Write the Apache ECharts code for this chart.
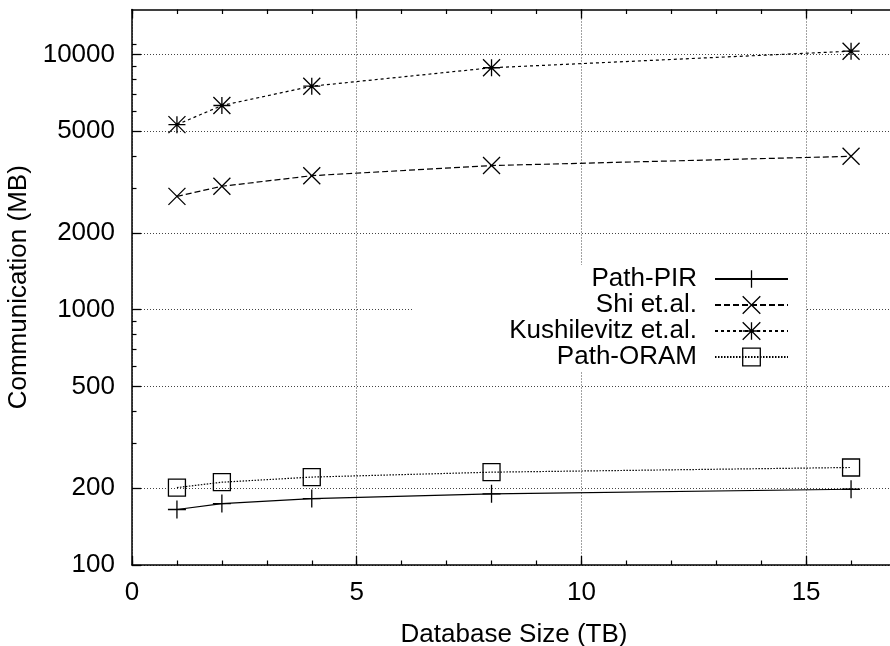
<!DOCTYPE html>
<html>
<head>
    <meta charset="utf-8">
    <title>Communication vs Database Size</title>
    <script src="https://cdn.jsdelivr.net/npm/echarts@6/dist/echarts.min.js"></script>
</head>
<body style="margin:0">
    <div id="main" style="width: 890px;height:646px;"></div>
    <script type="text/javascript">
        // data
        var sizes = [1, 2, 4, 8, 16];
        var pathPir = [165, 174, 182, 190, 198];
        var shi = [2780, 3045, 3350, 3670, 3990];
        var kushilevitz = [5310, 6310, 7510, 8870, 10300];
        var pathOram = [201, 211, 221, 231, 241];

        var yMajor = [100, 200, 500, 1000, 2000, 5000, 10000];
        var yMinor = [300, 400, 600, 700, 800, 900, 3000, 4000, 6000, 7000, 8000, 9000, 11000];
        var xMajor = [0, 5, 10, 15];

        var font = 'Liberation Sans';
        var gridLine = { show: true, lineStyle: { color: '#444', type: [1, 2], width: 1 } };

        function pts(vals) {
            return sizes.map(function (s, i) { return [s, vals[i]]; });
        }

        function mk(name, vals, symbol, size, dash) {
            return {
                name: name,
                type: 'line',
                data: pts(vals),
                symbol: symbol,
                symbolSize: size,
                showSymbol: true,
                lineStyle: { color: '#000', width: 1.2, type: dash },
                itemStyle: { color: 'none', borderColor: '#000', borderWidth: 1.3 },
                emphasis: { disabled: true },
                z: 5
            };
        }

        var myChart = echarts.init(document.getElementById('main'));

        var option = {
            animation: false,
            backgroundColor: '#fff',
            textStyle: { fontFamily: font },
            grid: { left: 132, right: -6, top: 9.5, bottom: 81, containLabel: false, outerBoundsMode: 'none' },
            legend: {
                orient: 'vertical',
                align: 'right',
                right: 85,
                top: 265,
                padding: [1, 16, 2, 97],
                backgroundColor: '#fff',
                itemWidth: 73,
                itemHeight: 22,
                itemGap: 0,
                itemStyle: { borderWidth: 1.3 },
                textStyle: { fontFamily: font, fontSize: 26, color: '#000', lineHeight: 26, padding: [0, 13, 0, 0] },
                data: ['Path-PIR', 'Shi et.al.', 'Kushilevitz et.al.', 'Path-ORAM'],
                z: 4
            },
            xAxis: [
                {
                    type: 'value', position: 'bottom', min: 0, max: 17,
                    name: 'Database Size (TB)', nameLocation: 'middle', nameGap: 57,
                    nameTextStyle: { fontFamily: font, fontSize: 26, color: '#000' },
                    axisLine: { lineStyle: { color: '#000', width: 1.5 } },
                    axisTick: { inside: true, length: 9, customValues: xMajor, lineStyle: { color: '#000', width: 1.3 } },
                    axisLabel: { customValues: xMajor, margin: 15, fontFamily: font, fontSize: 26, color: '#000' },
                    splitLine: gridLine
                },
                {
                    type: 'value', position: 'bottom', min: 0, max: 17, interval: 1,
                    axisLine: { show: false },
                    axisTick: { inside: true, length: 4.5, lineStyle: { color: '#000', width: 1.2 } },
                    axisLabel: { show: false },
                    splitLine: { show: false }
                },
                {
                    type: 'value', position: 'top', min: 0, max: 17,
                    axisLine: { lineStyle: { color: '#000', width: 1.5 } },
                    axisTick: { inside: true, length: 9, customValues: xMajor, lineStyle: { color: '#000', width: 1.3 } },
                    axisLabel: { show: false },
                    splitLine: { show: false }
                },
                {
                    type: 'value', position: 'top', min: 0, max: 17, interval: 1,
                    axisLine: { show: false },
                    axisTick: { inside: true, length: 4.5, lineStyle: { color: '#000', width: 1.2 } },
                    axisLabel: { show: false },
                    splitLine: { show: false }
                }
            ],
            yAxis: [
                {
                    type: 'log', logBase: 10, position: 'left', min: 100, max: 15000,
                    name: 'Communication (MB)', nameLocation: 'middle', nameGap: 93, nameRotate: 90,
                    nameTextStyle: { fontFamily: font, fontSize: 26, color: '#000' },
                    axisLine: { show: true, lineStyle: { color: '#000', width: 1.5 } },
                    axisTick: { show: true, inside: true, length: 9, customValues: yMajor, lineStyle: { color: '#000', width: 1.3 } },
                    axisLabel: {
                        customValues: yMajor, margin: 17, fontFamily: font, fontSize: 26, color: '#000',
                        formatter: function (v) { return String(Math.round(v)); }
                    },
                    splitLine: gridLine
                },
                {
                    type: 'log', logBase: 10, position: 'left', min: 100, max: 15000,
                    axisLine: { show: false },
                    axisTick: { show: true, inside: true, length: 4.5, customValues: yMinor, lineStyle: { color: '#000', width: 1.2 } },
                    axisLabel: { show: false },
                    splitLine: { show: false }
                }
            ],
            series: [
                mk('Path-PIR', pathPir, 'path://M0,5L10,5M5,0L5,10', 18, 'solid'),
                mk('Shi et.al.', shi, 'path://M0,0L10,10M10,0L0,10', 17, [6, 3]),
                mk('Kushilevitz et.al.', kushilevitz, 'path://M0,5L10,5M5,0L5,10M0,0L10,10M10,0L0,10', 17, [3, 3]),
                mk('Path-ORAM', pathOram, 'path://M0,0L10,0L10,10L0,10Z', 17, [1.5, 1.5])
            ]
        };

        myChart.setOption(option);
    </script>
</body>
</html>
